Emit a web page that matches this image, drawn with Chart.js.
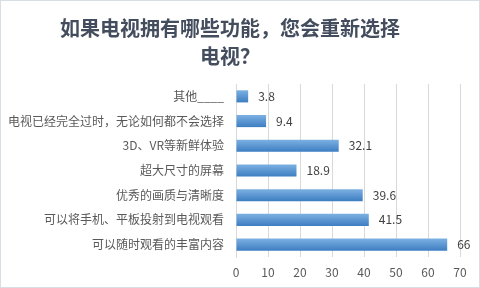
<!DOCTYPE html>
<html><head><meta charset="utf-8">
<script src="https://cdn.jsdelivr.net/npm/chart.js@4/dist/chart.umd.min.js"></script>
<style>
html,body{margin:0;padding:0;background:#fff;}
#wrap{position:absolute;left:0;top:0;width:480px;height:288px;background:#fff;}
#frame{position:absolute;left:0;top:0;width:480px;height:288px;box-sizing:border-box;border:1px solid #d9dde4;pointer-events:none;}
</style></head>
<body>
<div id="wrap"><canvas id="c"></canvas></div>
<div id="frame"></div>
<script>
const categories = ["其他____","电视已经完全过时，无论如何都不会选择","3D、VR等新鲜体验","超大尺寸的屏幕","优秀的画质与清晰度","可以将手机、平板投射到电视观看","可以随时观看的丰富内容"];
const values = [3.8, 9.4, 32.1, 18.9, 39.6, 41.5, 66];
const titleLines = ["如果电视拥有哪些功能，您会重新选择","电视？"];
const xTicks = [0,10,20,30,40,50,60,70];

const FONT = '"Noto Sans CJK SC", "Noto Sans", sans-serif';

function barGradient(context){
  const chart = context.chart;
  const ys = chart.scales.y;
  if (!ys || context.dataIndex === undefined) return '#5b9bd5';
  const yc = ys.getPixelForValue(context.dataIndex);
  if (!isFinite(yc)) return '#5b9bd5';
  const g = chart.ctx.createLinearGradient(0, yc - 6, 0, yc + 6);
  g.addColorStop(0,'#7cb0e2');
  g.addColorStop(1,'#3d7ec2');
  return g;
}

const labelPlugin = {
  id:'vals',
  afterDatasetsDraw(chart){
    const ctx = chart.ctx;
    ctx.save();
    ctx.font = '12px ' + FONT;
    ctx.fillStyle = '#404040';
    ctx.textBaseline = 'middle';
    ctx.textAlign = 'left';
    chart.getDatasetMeta(0).data.forEach((el,i)=>{
      ctx.fillText(String(values[i]), el.x + 10, el.y);
    });
    ctx.restore();
  }
};

new Chart(document.getElementById('c'), {
  type:'bar',
  data:{labels:categories, datasets:[{data:values, backgroundColor:barGradient, barPercentage:0.49, categoryPercentage:1}]},
  options:{
    indexAxis:'y',
    responsive:true, maintainAspectRatio:false, animation:false,
    layout:{padding:{left:0,right:20,top:0,bottom:0}},
    plugins:{
      legend:{display:false}, tooltip:{enabled:false},
      title:{display:true, text:titleLines, color:'#434d5d', font:{size:20, weight:'bold', family:FONT, lineHeight:1.4}, padding:{top:14,bottom:14}}
    },
    scales:{
      x:{min:0,max:70,afterBuildTicks(a){a.ticks=xTicks.map(v=>({value:v}));},
         afterFit(s){s.height = 31;},
         ticks:{color:'#595959', font:{size:12, family:FONT}, padding:8},
         grid:{color:'#d9d9d9', drawTicks:false}, border:{display:false}},
      y:{afterFit(s){s.width = 236;},
         ticks:{color:'#595959', font:{size:12, family:FONT}, padding:12},
         grid:{display:false, drawTicks:false}, border:{display:true, color:'#d9d9d9'}}
    }
  },
  plugins:[labelPlugin]
});
</script>
</body></html>
